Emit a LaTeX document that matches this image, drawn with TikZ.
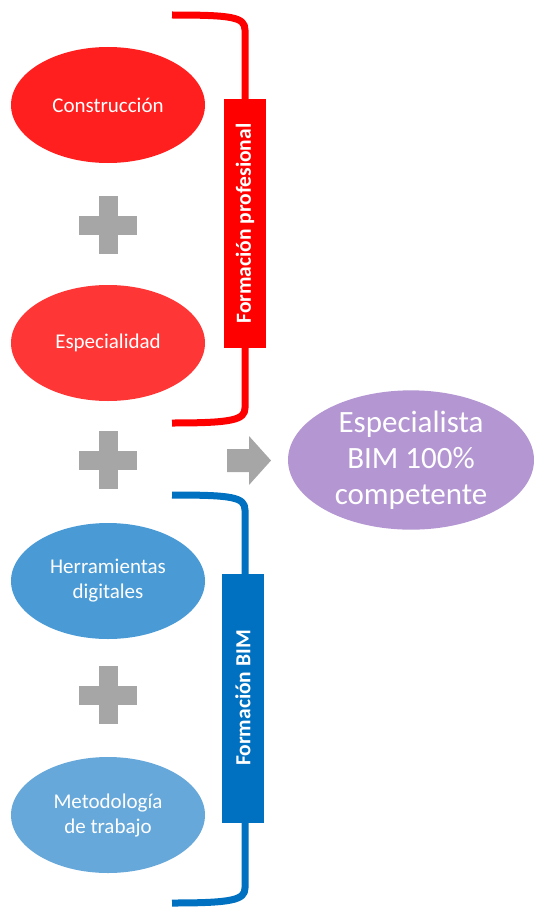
\documentclass[tikz,border=0pt]{standalone}
\usepackage{fontspec}
\setmainfont{Carlito}
\usetikzlibrary{shapes.geometric}
\definecolor{rojoA}{RGB}{255,31,31}
\definecolor{rojoB}{RGB}{255,54,54}
\definecolor{rojoL}{RGB}{255,0,0}
\definecolor{azulA}{RGB}{74,155,213}
\definecolor{azulB}{RGB}{103,168,218}
\definecolor{azulL}{RGB}{0,112,192}
\definecolor{morado}{RGB}{180,151,210}
\definecolor{gris}{RGB}{166,166,166}
\tikzset{
  elipse/.style={ellipse, minimum width=194pt, minimum height=116pt, inner sep=0pt,
    text=white, align=center, font=\fontsize{21}{25}\selectfont},
  etiqueta/.style={rotate=90, minimum width=249pt, minimum height=42pt, inner sep=0pt,
    text=white, font=\fontsize{21.5}{25}\selectfont\bfseries},
  llave/.style={line width=7pt, line cap=butt, line join=round},
}
\newcommand{\signomas}[2]{% cruz gris
  \fill[gris] (#1-29,#2-9.5) rectangle (#1+29,#2+9.5);
  \fill[gris] (#1-9.5,#2-29) rectangle (#1+9.5,#2+29);}
\begin{document}
\begin{tikzpicture}[x=1pt,y=-1pt, line join=round]
	\useasboundingbox (0,0) rectangle (533,907);
	% elipses
	\node[elipse, fill=rojoA] (constr) at (108,105) {Construcción};
	\node[elipse, fill=rojoB] (espec) at (108,343) {Especialidad};
	\node[elipse, fill=azulA] (herr) at (108,581) {Herramientas\\digitales};
	\node[elipse, fill=azulB] (metod) at (108,815) {Metodología\\de trabajo};
	\node[ellipse, fill=morado, minimum width=246pt, minimum height=124pt, inner sep=0pt,
	  text=white, align=center, font=\fontsize{31}{36}\selectfont] (result) at (411,460)
	  {Especialista\\BIM 100\%\\competente};
	% signos mas
	\signomas{108}{225}
	\signomas{108}{460}
	\signomas{108}{695}
	% flecha
	\fill[gris] (227,449) -- (249,449) -- (249,436) -- (271,460.5) -- (249,485)
	  -- (249,472) -- (227,472) -- cycle;
	% llaves
	\draw[llave, rojoL] (172,15) .. controls (232,15) and (245,17) .. (245,30)
	  -- (245,408) .. controls (245,420) and (232,423) .. (172,423);
	\draw[llave, azulL] (172,495) .. controls (232,495) and (245,497) .. (245,510)
	  -- (245,888) .. controls (245,900) and (232,903) .. (172,903);
	\node[etiqueta, fill=rojoL] (fprof) at (245,223.5) {Formación profesional};
	\node[etiqueta, fill=azulL] (fbim) at (243,698) {Formación BIM};
\end{tikzpicture}
\end{document}
